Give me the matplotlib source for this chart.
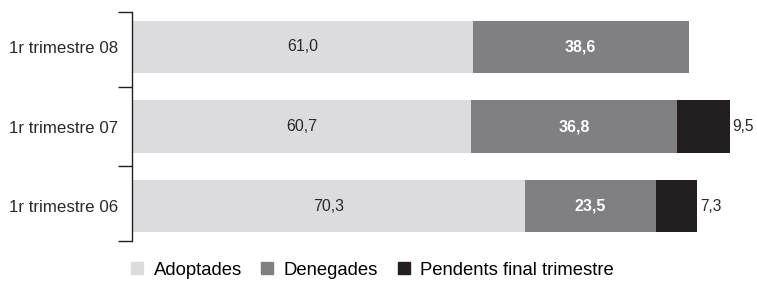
import matplotlib.pyplot as plt
from matplotlib.lines import Line2D

plt.rcParams['font.family'] = ['Liberation Sans', 'DejaVu Sans']

periods = ['1r trimestre 06', '1r trimestre 07', '1r trimestre 08']
adoptades = [70.3, 60.7, 61.0]
denegades = [23.5, 36.8, 38.6]
pendents = [7.3, 9.5, 0.0]
series_names = ['Adoptades', 'Denegades', 'Pendents final trimestre']
colors = ['#dcdcde', '#808083', '#231f20']

fig = plt.figure(figsize=(7.57, 2.82), dpi=100)
ax = fig.add_axes([0.1744, 0.1454, 0.812, 0.812])

ypos = range(len(periods))
h = 0.66
ax.barh(ypos, adoptades, height=h, color=colors[0])
ax.barh(ypos, denegades, height=h, left=adoptades, color=colors[1])
left2 = [a + d for a, d in zip(adoptades, denegades)]
ax.barh(ypos, pendents, height=h, left=left2, color=colors[2])

for i in ypos:
    ax.text(adoptades[i] / 2, i, f'{adoptades[i]:.1f}'.replace('.', ','),
            ha='center', va='center', fontsize=11.5, color='#2a2a2a')
    ax.text(adoptades[i] + denegades[i] / 2, i, f'{denegades[i]:.1f}'.replace('.', ','),
            ha='center', va='center', fontsize=11.5, color='white', fontweight='bold')
    if pendents[i] > 0:
        ax.text(left2[i] + pendents[i] + 0.5, i, f'{pendents[i]:.1f}'.replace('.', ','),
                ha='left', va='center', fontsize=11.2, color='#2a2a2a')

ax.set_xlim(0, 110)
ax.set_ylim(-0.44, 2.44)
for s in ['top', 'right', 'bottom']:
    ax.spines[s].set_visible(False)
ax.spines['left'].set_color('#231f20')
ax.spines['left'].set_linewidth(1.0)
ax.set_xticks([])
ax.set_yticks(list(ypos))
ax.set_yticklabels(periods, fontsize=12.2, color='#2a2a2a')
ax.tick_params(axis='y', which='major', length=0, pad=10)
ax.set_yticks([-0.44, 0.5, 1.5, 2.44], minor=True)
ax.tick_params(axis='y', which='minor', length=10, width=1.0, color='#231f20')

handles = [Line2D([], [], marker='s', linestyle='none', markersize=8,
                  markerfacecolor=c, markeredgecolor=c) for c in colors]
fig.legend(handles, series_names, loc='center', bbox_to_anchor=(0.49, 0.042),
           ncol=3, frameon=False, fontsize=13.3, handletextpad=0.4,
           columnspacing=0.87, handlelength=1.0)

fig.savefig('out.png', dpi=100)
